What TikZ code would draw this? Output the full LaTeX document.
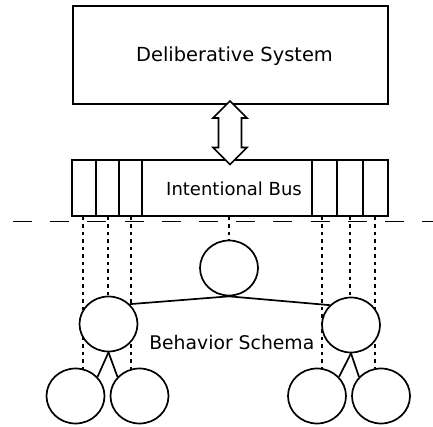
\documentclass[tikz,border=0pt]{standalone}
\usepackage{fontspec}
\setmainfont{DejaVu Sans}
\usetikzlibrary{shapes.geometric,calc}
\pgfdeclarelayer{background}
\pgfsetlayers{background,main}
\begin{document}
\begin{tikzpicture}[x=1pt,y=-1pt,
  box/.style={draw,line width=1.7pt,rectangle,inner sep=0pt},
  cell/.style={draw,line width=1.7pt,rectangle,inner sep=0pt,minimum height=56pt},
  blob/.style={draw,line width=1.7pt,ellipse,fill=white,inner sep=0pt,minimum width=58pt,minimum height=55pt},
  link/.style={line width=1.7pt},
  dotline/.style={line width=1.4pt,dash pattern=on 3.5pt off 4pt},
  sepline/.style={line width=1.7pt,dash pattern=on 19pt off 18.2pt},
  lbl/.style={inner sep=0pt,anchor=base}]
\useasboundingbox (0,0) rectangle (433,427);
% boxes
\node[box,minimum width=315pt,minimum height=98pt] (sys) at (230.5,55) {};
\node[lbl,font=\fontsize{19.4}{23}\selectfont] (systext) at (234.5,62) {Deliberative System};
\node[box,minimum width=316pt,minimum height=56pt] (bus) at (230,188) {};
\node[cell,minimum width=24pt] (c1) at (84,188) {};
\node[cell,minimum width=23pt] (c2) at (107.5,188) {};
\node[cell,minimum width=23pt] (c3) at (130.5,188) {};
\node[cell,minimum width=25pt] (c4) at (324.5,188) {};
\node[cell,minimum width=25pt] (c5) at (350,188) {};
\node[cell,minimum width=25pt] (c6) at (375.5,188) {};
\node[lbl,font=\fontsize{18}{22}\selectfont] (bustext) at (234,195.5) {Intentional Bus};
% double arrow between system and bus
\draw[line width=1.7pt,fill=white]
  (230,101) -- (247,118) -- (241.5,118) -- (241.5,147.5) -- (247,147.5)
  -- (230,164.5) -- (213,147.5) -- (218.5,147.5) -- (218.5,118) -- (213,118) -- cycle;
% separator
\coordinate (sepL) at (13,221.5);
\coordinate (sepR) at (433,221.5);
\draw[sepline] (sepL) -- (sepR);
% schema nodes
\node[blob] (t) at (229,268) {};
\node[blob] (lm) at (108.5,324) {};
\node[blob] (rm) at (351,325) {};
\node[blob] (ll) at (75.5,396) {};
\node[blob] (lr) at (139.5,396) {};
\node[blob] (rl) at (317,396) {};
\node[blob] (rr) at (381,396) {};
\node[lbl,font=\fontsize{18.8}{22}\selectfont] (schema) at (231.8,349) {Behavior Schema};
% tree links
\draw[link] (t.south) -- (lm.43);
\draw[link] (t.south) -- (rm.137);
\draw[link] (lm.south) -- (ll.41);
\draw[link] (lm.south) -- (lr.139);
\draw[link] (rm.south) -- (rl.41);
\draw[link] (rm.south) -- (rr.139);
% dotted links from bus cells
\coordinate (d1) at ([xshift=-1pt]c1.south);
\coordinate (d2) at ([xshift=0.5pt]c2.south);
\coordinate (d3) at ([xshift=0.5pt]c3.south);
\coordinate (d4) at ([xshift=-2.5pt]c4.south);
\coordinate (d6) at ([xshift=-0.5pt]c6.south);
\begin{pgfonlayer}{background}
\draw[dotline] (d1) -- (d1 |- ll.center);
\draw[dotline] (d2) -- (d2 |- lm.center);
\draw[dotline] (d3) -- (d3 |- lr.center);
\draw[dotline] (t.center |- bus.south) -- (t.center);
\draw[dotline] (d4) -- (d4 |- rl.center);
\draw[dotline] (c5.south) -- (c5.south |- rm.center);
\draw[dotline] (d6) -- (d6 |- rr.center);
\end{pgfonlayer}
\end{tikzpicture}
\end{document}
